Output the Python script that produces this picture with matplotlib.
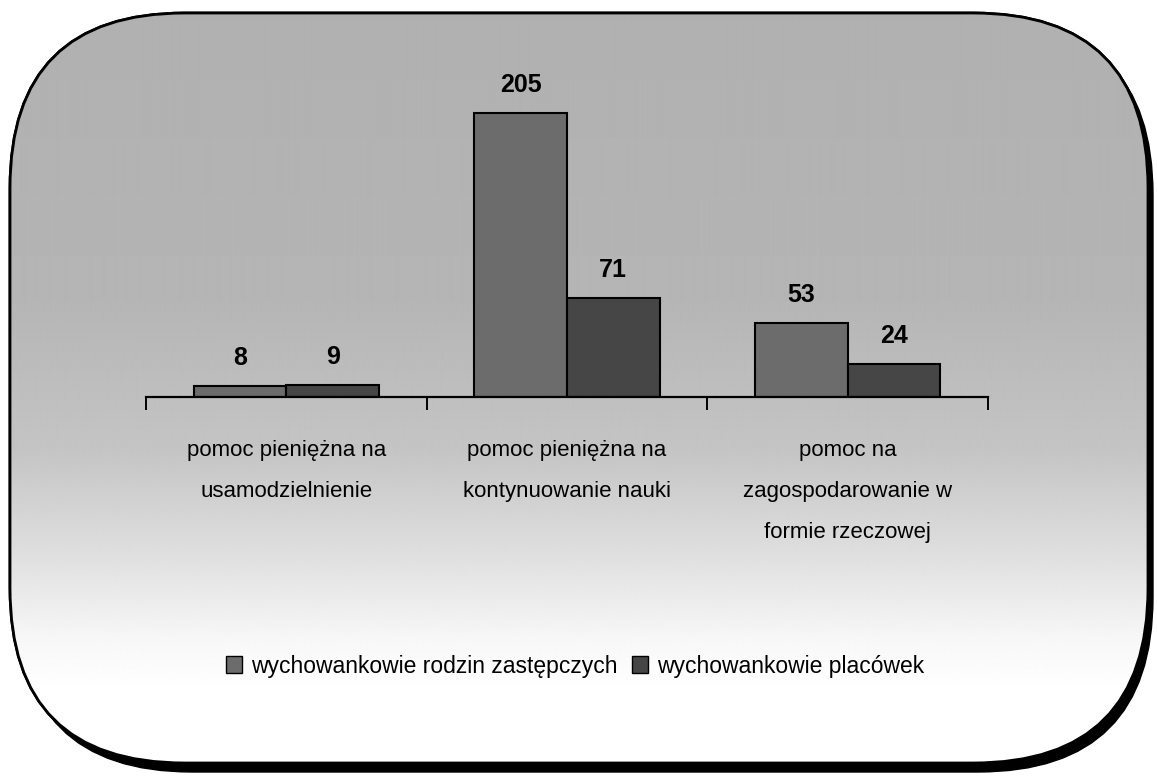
import numpy as np
import matplotlib
matplotlib.use("Agg")
import matplotlib.pyplot as plt
from matplotlib.patches import FancyBboxPatch, Patch

categories = [
    "pomoc pieniężna na\nusamodzielnienie",
    "pomoc pieniężna na\nkontynuowanie nauki",
    "pomoc na\nzagospodarowanie w\nformie rzeczowej",
]
series_names = ["wychowankowie rodzin zastępczych", "wychowankowie placówek"]
foster = [8, 205, 53]
institutions = [9, 71, 24]

plt.rcParams['font.family'] = ['Liberation Sans', 'DejaVu Sans']

W, H = 1157, 779
fig = plt.figure(figsize=(W / 100, H / 100), dpi=100)
fig.patch.set_facecolor('white')

# background frame, drawn in pixel coordinates
bg = fig.add_axes([0, 0, 1, 1])
bg.set_xlim(0, W)
bg.set_ylim(H, 0)
bg.axis('off')

box = dict(boxstyle="round,pad=0,rounding_size=175")
shadow = FancyBboxPatch((17, 20), 1136, 752, facecolor='black', edgecolor='black',
                        lw=1, zorder=1, **box)
bg.add_patch(shadow)
frame = FancyBboxPatch((10, 13), 1138, 750, facecolor='white', edgecolor='black',
                       lw=2, zorder=2, **box)
bg.add_patch(frame)

rows = np.arange(H)
shade = np.interp(rows, [0, 300, 450, 560, 640, 690], [0.69, 0.71, 0.77, 0.88, 0.97, 1.0])
grad = np.tile(shade[:, None], (1, 10))
img = bg.imshow(grad, cmap='gray', vmin=0, vmax=1, extent=(0, W, H, 0),
                aspect='auto', zorder=3, interpolation='bilinear')
img.set_clip_path(frame)
edge = FancyBboxPatch((10, 13), 1138, 750, facecolor='none', edgecolor='black',
                      lw=2, zorder=4, **box)
bg.add_patch(edge)

# chart area
ax = fig.add_axes([146 / W, 1 - 397 / H, 842 / W, 333 / H])
ax.patch.set_alpha(0)
x = np.arange(len(categories))
bw = 0.33
b1 = ax.bar(x - bw / 2, foster, bw, color='#6c6c6c', edgecolor='black', lw=1.5)
b2 = ax.bar(x + bw / 2, institutions, bw, color='#464646', edgecolor='black', lw=1.5)

for bars, vals in ((b1, foster), (b2, institutions)):
    for rect, v in zip(bars, vals):
        ax.annotate(str(v), (rect.get_x() + rect.get_width() / 2, v),
                    xytext=(0, 28), textcoords='offset pixels',
                    ha='center', va='center', fontsize=18, fontweight='bold')

ax.set_xlim(-0.5, 2.5)
ax.set_ylim(0, 240)
for s in ('top', 'right', 'left'):
    ax.spines[s].set_visible(False)
ax.spines['bottom'].set_linewidth(1.6)
ax.set_yticks([])
ax.set_xticks([-0.5, 0.5, 1.5, 2.5])
ax.set_xticklabels([])
ax.tick_params(axis='x', direction='out', length=9, width=1.4)
for xi, lab in zip(x, categories):
    ax.text(xi, -31, lab, ha='center', va='top', fontsize=16, linespacing=2.25)

handles = [Patch(facecolor='#6c6c6c', edgecolor='black'),
           Patch(facecolor='#464646', edgecolor='black')]
fig.legend(handles, series_names, loc='center', bbox_to_anchor=(0.497, 1 - 666 / H),
           ncol=2, frameon=False, fontsize=16.5, handlelength=0.7, handleheight=0.7,
           handletextpad=0.4, columnspacing=0.6)

fig.savefig('out.png', dpi=100)
